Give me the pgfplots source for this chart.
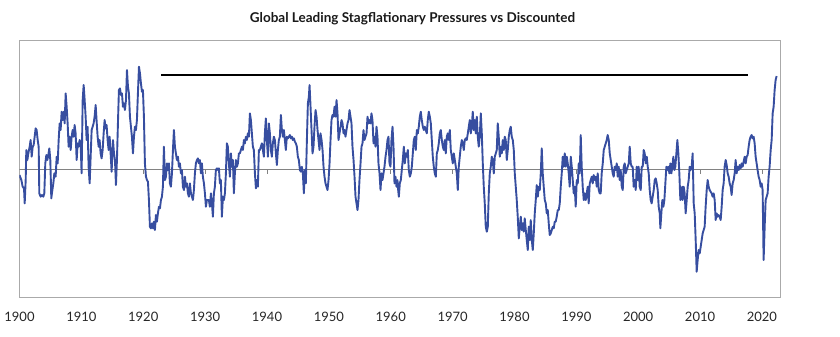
\documentclass[border=0pt]{standalone}
\usepackage{fontspec}
\setmainfont{Lato}
\usepackage{pgfplots}
\pgfplotsset{compat=1.18}
\definecolor{lineblue}{RGB}{55,78,160}
\definecolor{framegray}{RGB}{170,170,170}
\definecolor{zerogray}{RGB}{130,130,130}
\begin{document}
\begin{tikzpicture}
\useasboundingbox (-19.5pt,-39.3pt) rectangle (820.5pt,297.7pt);
\begin{axis}[
  at={(0pt,0pt)}, anchor=south west,
  scale only axis, width=761pt, height=257pt,
  xmin=1900, xmax=2023, ymin=-3.86, ymax=3.85,
  axis line style={draw=framegray, line width=0.9pt},
  xtick={1900,1910,...,2020}, ytick=\empty,
  major tick length=0pt,
  xticklabel style={font=\fontsize{13}{15}\selectfont, text=black!85, yshift=-11pt},
  /pgf/number format/1000 sep={},
  /pgf/number format/assume math mode=true,
  clip=true,
]
\addplot[zerogray, line width=0.9pt] coordinates {(1900,0) (2023,0)};
\pgfplotsinvokeforeach{1910,1920,...,2020}{\draw[zerogray, line width=0.7pt] (axis cs:#1,0) -- ([yshift=-5pt]axis cs:#1,0);}
\addplot[lineblue, line width=1.9pt, line join=round] coordinates {
(1900.00,-0.18) (1900.30,-0.33) (1900.51,-0.53) (1900.73,-0.58) (1900.84,-1.03) (1901.00,-0.33) (1901.10,0.57) (1901.27,0.27) (1901.43,0.47) (1901.64,0.67) (1901.80,0.87) (1901.97,0.37) (1902.13,0.67) (1902.29,0.72) (1902.45,0.97) (1902.61,1.22) (1902.77,1.17) (1902.94,0.87) (1903.10,0.67) (1903.20,-0.73) (1903.42,-0.83) (1903.64,-0.78) (1903.85,-0.83) (1904.01,-0.73) (1904.17,0.17) (1904.34,0.42) (1904.50,0.27) (1904.66,0.42) (1904.82,0.62) (1904.98,0.27) (1905.14,-0.88) (1905.31,-0.63) (1905.47,-0.43) (1905.63,-0.13) (1905.84,-0.23) (1906.01,0.37) (1906.17,0.17) (1906.33,0.87) (1906.49,1.37) (1906.65,1.17) (1906.81,1.72) (1906.97,1.47) (1907.14,1.72) (1907.30,1.37) (1907.46,2.27) (1907.62,1.87) (1907.78,1.37) (1907.94,0.67) (1908.11,0.97) (1908.27,0.57) (1908.43,0.97) (1908.59,1.17) (1908.75,0.97) (1908.91,1.32) (1909.07,1.07) (1909.24,0.27) (1909.40,0.77) (1909.56,0.67) (1909.72,0.87) (1909.88,0.77) (1910.04,-0.13) (1910.21,2.07) (1910.37,2.52) (1910.53,2.07) (1910.69,1.57) (1910.85,0.87) (1911.01,1.27) (1911.17,0.07) (1911.34,-0.43) (1911.50,0.37) (1911.66,1.17) (1911.82,1.27) (1911.98,1.37) (1912.14,1.57) (1912.31,1.92) (1912.47,1.42) (1912.63,0.97) (1912.79,0.67) (1912.95,0.87) (1913.11,0.47) (1913.27,0.32) (1913.44,0.57) (1913.60,1.07) (1913.76,1.47) (1913.92,1.22) (1914.08,1.32) (1914.24,0.87) (1914.41,0.57) (1914.57,0.97) (1914.73,0.47) (1914.89,-0.08)
(1915.11,0.87) (1915.27,0.47) (1915.43,0.27) (1915.59,-0.48) (1915.75,0.27) (1915.91,1.37) (1916.07,2.37) (1916.24,2.42) (1916.40,2.22) (1916.56,2.27) (1916.72,1.87) (1916.88,1.97) (1917.04,1.77) (1917.21,2.07) (1917.37,2.97) (1917.53,2.47) (1917.69,2.27) (1917.85,1.57) (1918.01,1.27) (1918.17,0.97) (1918.34,0.47) (1918.50,0.97) (1918.66,1.27) (1918.82,1.17) (1918.98,1.47) (1919.14,2.27) (1919.31,3.07) (1919.47,2.87) (1919.63,2.57) (1919.79,2.32) (1919.95,2.37) (1920.11,1.57) (1920.27,0.17) (1920.44,-0.23) (1920.60,-0.33) (1920.76,-0.38) (1920.92,-0.93) (1921.08,-1.73) (1921.24,-1.78) (1921.41,-1.63) (1921.57,-1.78) (1921.73,-1.58) (1921.89,-1.83) (1922.05,-1.38) (1922.21,-1.58) (1922.37,-1.33) (1922.54,-1.13) (1922.70,-1.18) (1922.86,-0.93) (1923.02,-0.83) (1923.18,-0.53) (1923.34,0.67) (1923.51,-0.33) (1923.67,-0.23) (1923.83,0.17) (1923.99,-0.03) (1924.15,0.17) (1924.31,-0.43) (1924.47,-0.53) (1924.64,-0.13) (1924.80,0.57) (1924.96,1.17) (1925.12,0.67) (1925.28,0.47) (1925.44,0.27) (1925.61,0.37) (1925.77,0.07) (1925.93,0.17) (1926.09,-0.13) (1926.25,-0.03) (1926.41,-0.53) (1926.58,-0.63) (1926.74,-0.23) (1926.90,-0.53) (1927.06,-0.43) (1927.22,-0.73) (1927.38,-0.83) (1927.54,-0.43) (1927.71,-0.73) (1927.87,-0.83) (1928.03,-0.93) (1928.19,-0.63) (1928.35,-0.13) (1928.51,0.17) (1928.68,0.27) (1928.84,0.32) (1929.00,0.17) (1929.16,0.27) (1929.32,-0.13) (1929.48,0.17) (1929.64,-0.23) (1929.81,-0.43) (1929.97,-0.73) (1930.13,-1.13) (1930.29,-0.93)
(1930.61,-0.93) (1930.77,-1.13) (1930.94,-0.73) (1931.10,-1.03) (1931.26,-1.43) (1931.42,-0.73) (1931.58,-0.53) (1931.74,-0.03) (1931.91,0.02) (1932.07,-0.03) (1932.23,0.02) (1932.39,-0.43) (1932.55,-0.33) (1932.71,-1.43) (1932.88,-0.83) (1933.04,-0.93) (1933.20,-0.73) (1933.36,-0.13) (1933.52,0.77) (1933.68,0.67) (1933.84,0.17) (1934.01,-0.23) (1934.17,0.47) (1934.33,0.07) (1934.49,0.27) (1934.65,-0.73) (1934.81,-0.13) (1934.98,0.27) (1935.14,0.07) (1935.30,0.17) (1935.46,0.47) (1935.62,0.47) (1935.78,0.57) (1935.95,0.67) (1936.11,0.57) (1936.27,0.87) (1936.43,0.77) (1936.59,0.97) (1936.75,0.87) (1936.91,1.07) (1937.08,0.97) (1937.24,1.67) (1937.40,1.47) (1937.56,1.07) (1937.72,0.67) (1937.88,0.57) (1938.05,-0.13) (1938.21,-0.58) (1938.37,-0.33) (1938.53,-0.53) (1938.69,0.57) (1938.85,0.57) (1939.01,0.67) (1939.18,0.77) (1939.34,0.57) (1939.50,0.37) (1939.66,1.07) (1939.82,1.52) (1939.98,0.87) (1940.15,0.37) (1940.31,1.37) (1940.47,1.07) (1940.63,0.57) (1940.79,0.37) (1940.95,0.77) (1941.11,0.97) (1941.28,0.87) (1941.44,0.47) (1941.60,0.12) (1941.76,0.57) (1941.92,0.87) (1942.08,0.97) (1942.25,1.62) (1942.41,1.17) (1942.57,0.97) (1942.73,1.17) (1942.89,0.87) (1943.05,0.57) (1943.21,0.97) (1943.38,0.92) (1943.54,0.97) (1943.70,1.02) (1943.86,0.92) (1944.02,0.97) (1944.18,0.87) (1944.35,0.92) (1944.51,0.82) (1944.67,0.77) (1944.83,0.67) (1944.99,0.37) (1945.15,0.27) (1945.32,-0.03) (1945.48,-0.08) (1945.64,0.07)
(1945.80,-0.13) (1945.96,-0.73) (1946.12,-0.03) (1946.28,-0.43) (1946.45,0.87) (1946.61,1.97) (1946.77,2.17) (1946.88,2.52) (1947.04,1.87) (1947.20,1.17) (1947.36,0.47) (1947.52,0.67) (1947.68,1.27) (1947.85,1.77) (1948.01,1.57) (1948.17,1.17) (1948.33,0.87) (1948.49,0.57) (1948.65,1.07) (1948.82,0.87) (1948.98,0.57) (1949.14,0.07) (1949.30,-0.23) (1949.46,-0.43) (1949.62,-0.53) (1949.78,-0.63) (1949.95,-0.33) (1950.11,0.17) (1950.27,0.87) (1950.43,1.47) (1950.59,1.62) (1950.75,1.57) (1950.92,1.87) (1951.08,1.57) (1951.24,2.07) (1951.40,1.67) (1951.56,0.87) (1951.72,1.07) (1951.89,1.27) (1952.05,1.47) (1952.21,1.37) (1952.37,1.07) (1952.53,1.17) (1952.69,0.97) (1952.85,1.17) (1953.02,1.37) (1953.18,1.47) (1953.34,1.77) (1953.50,1.57) (1953.66,1.37) (1953.82,0.67) (1953.99,0.27) (1954.15,-0.23) (1954.31,-0.83) (1954.47,-1.03) (1954.63,-1.23) (1954.79,-0.93) (1954.95,-0.33) (1955.12,0.17) (1955.28,0.67) (1955.44,0.77) (1955.60,1.17) (1955.76,0.87) (1955.92,0.97) (1956.09,1.07) (1956.25,1.57) (1956.41,1.37) (1956.57,1.47) (1956.73,1.37) (1956.89,1.67) (1957.05,1.47) (1957.22,0.77) (1957.38,0.97) (1957.54,0.67) (1957.70,1.27) (1957.86,0.97) (1958.02,0.17) (1958.19,-0.13) (1958.35,-0.63) (1958.51,-0.13) (1958.67,-0.33) (1958.83,-0.13) (1958.99,0.07) (1959.16,0.37) (1959.32,0.57) (1959.48,0.87) (1959.64,0.97) (1959.80,0.17) (1959.96,0.07) (1960.12,0.87) (1960.29,1.27) (1960.45,0.67) (1960.61,-0.43) (1960.77,-0.23) (1960.93,-0.53) (1961.09,-0.33)
(1961.15,-0.53) (1961.31,-0.83) (1961.47,-0.43) (1961.63,-0.33) (1961.79,-0.03) (1961.95,0.27) (1962.12,0.67) (1962.28,0.17) (1962.44,0.47) (1962.60,0.37) (1962.76,0.57) (1962.92,-0.03) (1963.09,-0.23) (1963.25,-0.13) (1963.41,0.07) (1963.57,0.47) (1963.73,0.87) (1963.89,0.97) (1964.05,0.57) (1964.22,1.17) (1964.38,1.07) (1964.54,1.27) (1964.70,1.57) (1964.86,1.72) (1965.02,1.47) (1965.19,1.27) (1965.35,1.17) (1965.51,1.27) (1965.67,1.17) (1965.83,1.07) (1965.99,1.47) (1966.15,1.72) (1966.32,1.57) (1966.48,1.37) (1966.64,0.87) (1966.80,0.37) (1966.96,0.07) (1967.12,-0.13) (1967.29,-0.23) (1967.45,0.47) (1967.61,0.57) (1967.77,0.77) (1967.93,1.07) (1968.09,1.17) (1968.26,0.87) (1968.42,0.67) (1968.58,0.57) (1968.74,0.87) (1968.90,0.47) (1969.06,0.97) (1969.22,1.07) (1969.39,0.87) (1969.55,1.17) (1969.71,0.57) (1969.87,0.37) (1970.03,0.17) (1970.19,0.47) (1970.36,0.27) (1970.52,0.07) (1970.68,-0.13) (1970.84,-0.63) (1971.00,0.07) (1971.16,0.37) (1971.32,0.67) (1971.49,0.87) (1971.65,0.77) (1971.81,0.57) (1971.97,0.87) (1972.13,0.92) (1972.29,0.87) (1972.46,1.07) (1972.62,1.27) (1972.78,1.47) (1972.94,1.07) (1973.10,1.27) (1973.26,1.72) (1973.42,1.17) (1973.59,1.47) (1973.75,1.07) (1973.91,1.57) (1974.07,0.97) (1974.23,0.67) (1974.39,0.97) (1974.56,1.67) (1974.72,1.07) (1974.88,0.17) (1975.04,-0.53) (1975.20,-1.03) (1975.36,-1.73) (1975.53,-1.88) (1975.69,-1.73) (1975.85,-0.73) (1976.01,-0.13) (1976.17,0.07) (1976.33,0.37)
(1976.49,0.27) (1976.66,-0.13) (1976.82,0.37) (1976.98,0.47) (1977.14,0.57) (1977.30,1.37) (1977.46,0.97) (1977.63,0.37) (1977.79,0.67) (1977.95,0.47) (1978.11,0.87) (1978.27,0.57) (1978.43,0.97) (1978.59,0.87) (1978.76,0.27) (1978.92,0.57) (1979.08,0.97) (1979.24,1.17) (1979.40,1.27) (1979.56,0.97) (1979.73,0.87) (1979.89,0.57) (1980.05,-0.13) (1980.21,-0.53) (1980.37,-0.93) (1980.53,-1.43) (1980.70,-2.08) (1980.86,-1.73) (1981.02,-1.43) (1981.18,-1.83) (1981.34,-1.63) (1981.50,-1.88) (1981.66,-1.48) (1981.83,-1.83) (1981.99,-2.13) (1982.15,-2.43) (1982.31,-1.73) (1982.47,-2.13) (1982.63,-1.53) (1982.80,-2.13) (1982.96,-2.43) (1983.12,-1.93) (1983.28,-1.33) (1983.44,-0.93) (1983.60,-0.48) (1983.77,-0.83) (1983.93,-0.53) (1984.09,-0.63) (1984.25,-0.13) (1984.41,0.62) (1984.57,-0.13) (1984.73,-0.53) (1984.90,-0.93) (1985.06,-1.03) (1985.22,-1.33) (1985.38,-1.23) (1985.54,-1.63) (1985.70,-1.98) (1985.87,-1.93) (1986.03,-1.83) (1986.19,-1.73) (1986.35,-1.78) (1986.51,-1.58) (1986.67,-1.58) (1986.83,-1.43) (1987.00,-1.23) (1987.16,-1.23) (1987.32,-1.03) (1987.48,-0.53) (1987.64,-0.13) (1987.80,0.37) (1987.97,0.07) (1988.13,0.47) (1988.29,0.07) (1988.45,0.37) (1988.61,0.17) (1988.77,-0.13) (1988.93,-0.53) (1989.10,0.37) (1989.26,0.07) (1989.42,-0.33) (1989.58,-0.73) (1989.74,-0.53) (1989.90,-1.13) (1990.07,-0.33) (1990.23,-0.43) (1990.39,0.17) (1990.55,-0.13) (1990.71,1.02) (1990.87,0.07) (1991.03,-0.53) (1991.20,-0.93) (1991.36,-0.73) (1991.52,-0.93) (1991.68,-0.73)
(1991.84,-0.53) (1992.00,-1.03) (1992.17,-0.43) (1992.33,-0.33) (1992.49,-0.23) (1992.65,-0.43) (1992.81,-0.18) (1992.97,-0.33) (1993.13,-0.23) (1993.30,-0.53) (1993.46,-0.13) (1993.62,-0.63) (1993.78,-0.73) (1993.94,-0.73) (1994.10,-0.13) (1994.27,0.17) (1994.43,0.57) (1994.59,0.67) (1994.75,0.77) (1994.91,0.87) (1995.07,1.02) (1995.24,0.87) (1995.40,0.47) (1995.56,0.27) (1995.72,0.07) (1995.88,-0.13) (1996.04,-0.23) (1996.20,0.07) (1996.37,-0.03) (1996.53,0.17) (1996.69,-0.23) (1996.85,0.07) (1997.01,-0.33) (1997.17,-0.03) (1997.34,-0.53) (1997.50,-0.63) (1997.66,0.07) (1997.82,0.17) (1997.98,-0.13) (1998.14,-0.03) (1998.31,0.07) (1998.47,0.17) (1998.63,0.67) (1998.79,0.17) (1998.95,0.07) (1999.11,0.07) (1999.27,-0.53) (1999.44,-0.33) (1999.60,-0.63) (1999.76,0.07) (1999.92,-0.33) (2000.08,0.07) (2000.24,-0.53) (2000.41,-0.63) (2000.57,0.07) (2000.73,0.07) (2000.89,0.57) (2001.05,0.47) (2001.21,0.17) (2001.38,0.37) (2001.54,0.07) (2001.70,-0.13) (2001.86,-0.63) (2002.02,-0.93) (2002.18,-1.03) (2002.34,-0.83) (2002.51,-0.63) (2002.67,-0.33) (2002.83,-0.28) (2002.99,-0.43) (2003.15,-0.63) (2003.31,-1.13) (2003.48,-1.33) (2003.58,-1.78) (2003.74,-1.33) (2003.90,-0.93) (2004.07,-1.13) (2004.23,-0.93) (2004.39,-0.43) (2004.55,0.07) (2004.71,-0.03) (2004.87,0.07) (2005.04,-0.13) (2005.20,0.17) (2005.36,-0.13) (2005.52,0.07) (2005.68,0.37) (2005.84,-0.03) (2006.00,0.07) (2006.17,0.47) (2006.33,0.87) (2006.49,0.47) (2006.65,-0.13) (2006.81,-0.93) (2006.97,-0.63) (2007.14,-0.53)
(2007.19,-0.93) (2007.35,-0.53) (2007.51,-0.73) (2007.67,-1.33) (2007.84,-0.93) (2008.00,-0.53) (2008.16,-0.33) (2008.32,0.07) (2008.48,-0.03) (2008.64,0.07) (2008.80,0.47) (2008.97,-1.03) (2009.13,-1.33) (2009.29,-2.13) (2009.45,-3.08) (2009.61,-2.73) (2009.77,-2.43) (2009.94,-2.53) (2010.10,-2.33) (2010.26,-2.13) (2010.42,-1.93) (2010.58,-1.83) (2010.74,-1.73) (2010.90,-1.13) (2011.07,-0.63) (2011.23,-0.33) (2011.39,-0.53) (2011.55,-0.63) (2011.71,-0.68) (2011.87,-0.73) (2012.04,-0.83) (2012.20,-0.73) (2012.36,-0.93) (2012.52,-1.53) (2012.68,-1.33) (2012.84,-1.43) (2013.00,-1.38) (2013.17,-1.43) (2013.33,-1.53) (2013.49,-1.13) (2013.65,-0.63) (2013.81,-0.43) (2013.97,0.07) (2014.14,0.27) (2014.30,0.12) (2014.46,-0.13) (2014.62,-0.23) (2014.78,-0.43) (2014.94,-0.53) (2015.10,-0.78) (2015.27,-0.43) (2015.43,-0.33) (2015.59,-0.13) (2015.75,0.27) (2015.91,-0.13) (2016.07,0.07) (2016.24,-0.03) (2016.40,0.12) (2016.56,0.02) (2016.72,0.17) (2016.88,0.07) (2017.04,0.22) (2017.21,0.37) (2017.37,0.17) (2017.53,0.37) (2017.69,0.42) (2017.85,0.67) (2018.01,0.87) (2018.17,0.97) (2018.34,1.02) (2018.50,0.92) (2018.66,0.97) (2018.82,0.77) (2018.98,0.37) (2019.14,0.17) (2019.30,-0.03) (2019.47,-0.23) (2019.63,-0.33) (2019.79,-0.53) (2019.95,-0.43) (2020.11,-0.63) (2020.27,-2.73) (2020.44,-1.73) (2020.60,-0.93) (2020.76,-0.83) (2020.92,-0.73) (2021.08,-0.23) (2021.24,0.07) (2021.41,0.57) (2021.57,0.87) (2021.73,1.67) (2021.89,1.87) (2022.05,2.37) (2022.21,2.67) (2022.37,2.79)
};
\addplot[black, line width=1.8pt] coordinates {(1922.9,2.83) (2017.7,2.83)};
\end{axis}
\node[font=\bfseries\fontsize{13.5}{15}\selectfont, text=black!90] at (393pt,279pt) {Global Leading Stagflationary Pressures vs Discounted};
\end{tikzpicture}
\end{document}
